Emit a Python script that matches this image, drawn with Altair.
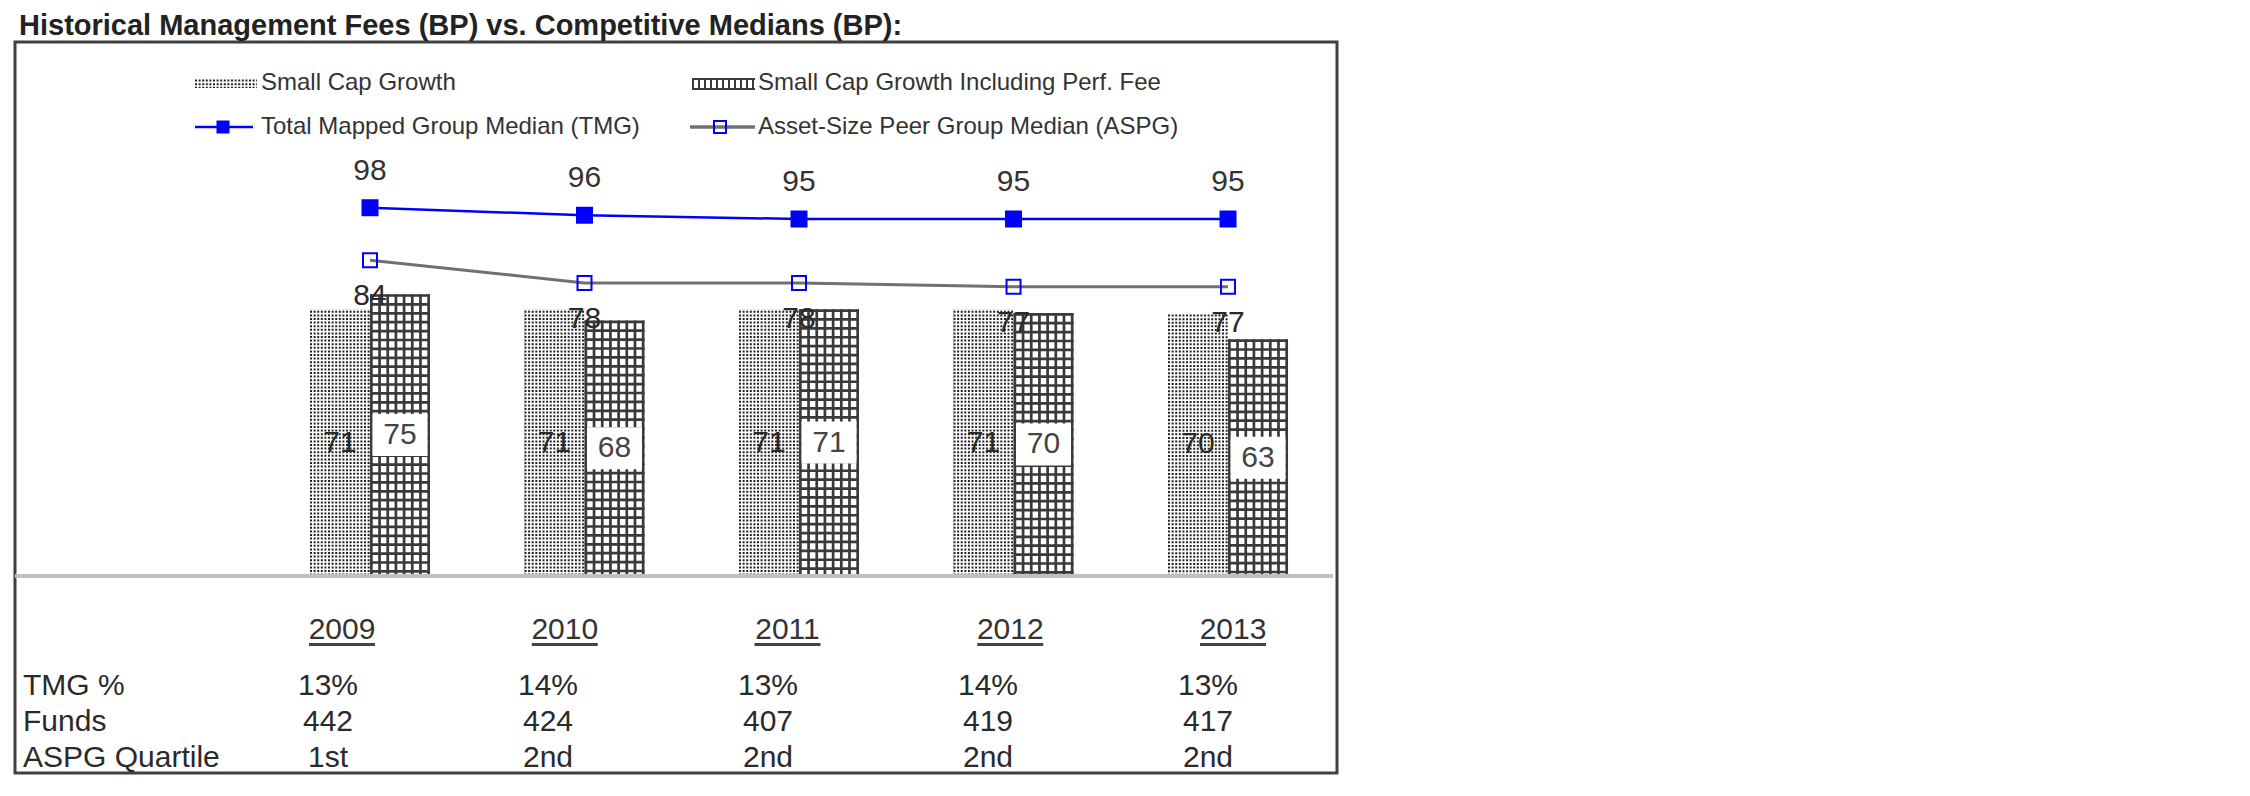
import altair as alt
import pandas as pd

# ---------------- data ----------------
years = [2009, 2010, 2011, 2012, 2013]
small_cap_growth = [71, 71, 71, 71, 70]
small_cap_growth_pf = [75, 68, 71, 70, 63]
tmg_median = [98, 96, 95, 95, 95]
aspg_median = [84, 78, 78, 77, 77]

row_labels = ["TMG %", "Funds", "ASPG Quartile"]
tmg_pct = ["13%", "14%", "13%", "14%", "13%"]
funds = ["442", "424", "407", "419", "417"]
aspg_quartile = ["1st", "2nd", "2nd", "2nd", "2nd"]

title_text = "Historical Management Fees (BP) vs. Competitive Medians (BP):"
legend_labels = [
    "Small Cap Growth",
    "Small Cap Growth Including Perf. Fee",
    "Total Mapped Group Median (TMG)",
    "Asset-Size Peer Group Median (ASPG)",
]

# ---------------- layout constants ----------------
FONT = "Liberation Sans"
W, H = 1322, 731
X_DOM = [2007.345, 2013.508]
Y_DOM = [-52.42, 142.1]
PX_Y = H / (Y_DOM[1] - Y_DOM[0])
PX_X = W / (X_DOM[1] - X_DOM[0])
BAR_W = 60
BW = BAR_W / PX_X            # bar width in year units
BOX_W = 55 / PX_X
BOX_H = 21 / PX_Y

df = pd.DataFrame({
    "Year": years,
    "SCG": small_cap_growth,
    "SCGPF": small_cap_growth_pf,
    "TMG": tmg_median,
    "ASPG": aspg_median,
})

tbl = pd.DataFrame(
    [{"Row": row_labels[0], "Year": y, "Value": v} for y, v in zip(years, tmg_pct)]
    + [{"Row": row_labels[1], "Year": y, "Value": v} for y, v in zip(years, funds)]
    + [{"Row": row_labels[2], "Year": y, "Value": v} for y, v in zip(years, aspg_quartile)]
)

xs = alt.Scale(domain=X_DOM, nice=False, zero=False)
ys = alt.Scale(domain=Y_DOM, nice=False, zero=False)
sw = alt.Scale(domain=[0, 100], range=[0, 100 * PX_Y])

base = alt.Chart(df).transform_calculate(
    zero="0",
    d_left=f"datum.Year - {BW}",
    d_mid_x=f"datum.Year - {BW / 2}",
    c_right=f"datum.Year + {BW}",
    c_mid_x=f"datum.Year + {BW / 2}",
    d_mid_y="datum.SCG / 2",
    c_mid_y="datum.SCGPF / 2",
    box_x1=f"datum.Year + {BW / 2} - {BOX_W / 2}",
    box_x2=f"datum.Year + {BW / 2} + {BOX_W / 2}",
    box_y1=f"datum.SCGPF / 2 - {BOX_H}",
    box_y2=f"datum.SCGPF / 2 + {BOX_H}",
)

PAT = "#222222"
HATCH = "#3a3a3a"

# dotted bars (Small Cap Growth)
dot_cols = base.mark_rule(color=PAT, strokeDash=[2, 1.6], strokeCap="butt").encode(
    x=alt.X("d_left:Q", scale=xs, axis=None),
    x2="Year:Q",
    y=alt.Y("d_mid_y:Q", scale=ys, axis=None),
    strokeWidth=alt.StrokeWidth("SCG:Q", scale=sw, legend=None),
)
dot_cuts = base.mark_rule(color="white", strokeDash=[1.6, 2], strokeCap="butt", strokeWidth=BAR_W).encode(
    x=alt.X("d_mid_x:Q", scale=xs, axis=None),
    y=alt.Y("SCG:Q", scale=ys, axis=None),
    y2="zero:Q",
)

# crosshatch bars (incl. perf fee)
gap_v = (BAR_W - 2.7) / 7 - 2.7
hatch_v = base.mark_rule(color=HATCH, strokeDash=[2.7, gap_v], strokeCap="butt").encode(
    x=alt.X("Year:Q", scale=xs, axis=None),
    x2="c_right:Q",
    y=alt.Y("c_mid_y:Q", scale=ys, axis=None),
    strokeWidth=alt.StrokeWidth("SCGPF:Q", scale=sw, legend=None),
)
hatch_h = base.mark_rule(color=HATCH, strokeDash=[2.7, 6.2], strokeCap="butt", strokeWidth=BAR_W).encode(
    x=alt.X("c_mid_x:Q", scale=xs, axis=None),
    y=alt.Y("SCGPF:Q", scale=ys, axis=None),
    y2="zero:Q",
)
label_box = base.mark_rect(color="white").encode(
    x=alt.X("box_x1:Q", scale=xs, axis=None),
    x2="box_x2:Q",
    y=alt.Y("box_y1:Q", scale=ys, axis=None),
    y2="box_y2:Q",
)

baseline = alt.Chart(alt.Data(values=[{"zero": 0}])).mark_rule(color="#c0c0c0", strokeWidth=4).encode(
    y=alt.Y("zero:Q", scale=ys, axis=None),
    x=alt.value(0),
    x2=alt.value(1318),
)

dot_lbl = base.mark_text(font=FONT, fontSize=30, color="#2a2a2a", baseline="middle").encode(
    x=alt.X("d_mid_x:Q", scale=xs, axis=None),
    y=alt.Y("d_mid_y:Q", scale=ys, axis=None),
    text="SCG:Q",
)
hatch_lbl = base.mark_text(font=FONT, fontSize=30, color="#444444", baseline="middle").encode(
    x=alt.X("c_mid_x:Q", scale=xs, axis=None),
    y=alt.Y("c_mid_y:Q", scale=ys, axis=None),
    text="SCGPF:Q",
)

aspg_line = base.mark_line(color="#707070", strokeWidth=3).encode(
    x=alt.X("Year:Q", scale=xs, axis=None),
    y=alt.Y("ASPG:Q", scale=ys, axis=None),
)
tmg_line = base.mark_line(color="#0000ff", strokeWidth=2.5).encode(
    x=alt.X("Year:Q", scale=xs, axis=None),
    y=alt.Y("TMG:Q", scale=ys, axis=None),
)
aspg_pts = base.mark_point(shape="square", filled=False, size=196, color="#0000ff",
                           strokeWidth=2, opacity=1).encode(
    x=alt.X("Year:Q", scale=xs, axis=None),
    y=alt.Y("ASPG:Q", scale=ys, axis=None),
)
tmg_pts = base.mark_point(shape="square", filled=True, size=289, color="#0000ff", opacity=1).encode(
    x=alt.X("Year:Q", scale=xs, axis=None),
    y=alt.Y("TMG:Q", scale=ys, axis=None),
)
tmg_lbl = base.mark_text(font=FONT, fontSize=30, color="#333333", baseline="middle", dy=-37).encode(
    x=alt.X("Year:Q", scale=xs, axis=None),
    y=alt.Y("TMG:Q", scale=ys, axis=None),
    text="TMG:Q",
)
aspg_lbl = base.mark_text(font=FONT, fontSize=30, color="#2a2a2a", baseline="middle", dy=36).encode(
    x=alt.X("Year:Q", scale=xs, axis=None),
    y=alt.Y("ASPG:Q", scale=ys, axis=None),
    text="ASPG:Q",
)

# ---------------- year labels & table ----------------
year_x = alt.Scale(type="point", domain=years, range=[327, 1218], padding=0)
val_x = alt.Scale(type="point", domain=years, range=[313, 1193], padding=0)
row_y = alt.Scale(type="point", domain=row_labels, range=[653, 725], padding=0)

year_lbl = alt.Chart(df).mark_text(font=FONT, fontSize=30, color="#333333", baseline="alphabetic").encode(
    x=alt.X("Year:O", scale=year_x, axis=None),
    y=alt.value(597),
    text="Year:N",
)
year_ul = alt.Chart(df).mark_rule(color="#444444", strokeWidth=66, strokeCap="butt").encode(
    x=alt.X("Year:O", scale=year_x, axis=None),
    y=alt.value(601),
    y2=alt.value(604),
)
tbl_vals = alt.Chart(tbl).mark_text(font=FONT, fontSize=30, color="#2a2a2a", baseline="alphabetic").encode(
    x=alt.X("Year:O", scale=val_x, axis=None),
    y=alt.Y("Row:N", scale=row_y, axis=None),
    text="Value:N",
)
tbl_rows = alt.Chart(pd.DataFrame({"Row": row_labels})).mark_text(
    font=FONT, fontSize=30, color="#2a2a2a", baseline="alphabetic", align="left"
).encode(
    x=alt.value(8),
    y=alt.Y("Row:N", scale=row_y, axis=None),
    text="Row:N",
)

# ---------------- title & legend ----------------
one = alt.Data(values=[{"k": 1}])
title = alt.Chart(one).mark_text(
    text=title_text, font=FONT, fontSize=29, fontWeight="bold", color="#222222",
    align="left", baseline="alphabetic",
).encode(x=alt.value(4), y=alt.value(-7))

LEG = dict(font=FONT, fontSize=24, color="#333333", baseline="middle", align="left")
leg = [
    alt.Chart(one).mark_rule(color=PAT, strokeWidth=10, strokeDash=[2, 1.6], strokeCap="butt").encode(
        x=alt.value(180), x2=alt.value(242), y=alt.value(41)),
    alt.Chart(one).mark_rule(color="white", strokeWidth=62, strokeDash=[1.6, 2], strokeCap="butt").encode(
        x=alt.value(211), y=alt.value(36), y2=alt.value(46)),
    alt.Chart(one).mark_text(text=legend_labels[0], **LEG).encode(x=alt.value(246), y=alt.value(41)),
    alt.Chart(one).mark_rule(color=HATCH, strokeWidth=12, strokeDash=[2, 4], strokeCap="butt").encode(
        x=alt.value(677), x2=alt.value(740), y=alt.value(42)),
    alt.Chart(one).mark_rule(color=HATCH, strokeWidth=63, strokeDash=[2, 8], strokeCap="butt").encode(
        x=alt.value(708.5), y=alt.value(36), y2=alt.value(48)),
    alt.Chart(one).mark_text(text=legend_labels[1], **LEG).encode(x=alt.value(743), y=alt.value(41)),
    alt.Chart(one).mark_rule(color="#0000ff", strokeWidth=2.5).encode(
        x=alt.value(180), x2=alt.value(238), y=alt.value(85)),
    alt.Chart(one).mark_point(shape="square", filled=True, size=169, color="#0000ff", opacity=1).encode(
        x=alt.value(208), y=alt.value(85)),
    alt.Chart(one).mark_text(text=legend_labels[2], **LEG).encode(x=alt.value(246), y=alt.value(85)),
    alt.Chart(one).mark_rule(color="#707070", strokeWidth=3.5).encode(
        x=alt.value(675), x2=alt.value(740), y=alt.value(85)),
    alt.Chart(one).mark_point(shape="square", filled=False, size=144, color="#0000ff",
                              strokeWidth=2, opacity=1).encode(x=alt.value(705), y=alt.value(85)),
    alt.Chart(one).mark_text(text=legend_labels[3], **LEG).encode(x=alt.value(743), y=alt.value(85)),
]

chart = alt.layer(
    dot_cols, dot_cuts, hatch_v, hatch_h, label_box, baseline,
    dot_lbl, hatch_lbl,
    aspg_line, tmg_line, aspg_pts, tmg_pts, tmg_lbl, aspg_lbl,
    year_lbl, year_ul, tbl_vals, tbl_rows,
    title, *leg,
).resolve_scale(
    x="independent", y="independent"
).properties(
    width=W,
    height=H,
    autosize=alt.AutoSizeParams(type="none"),
    padding={"left": 7, "top": 34, "right": 20, "bottom": 20},
    background="white",
).configure_view(
    stroke="#404040", strokeWidth=3
)

chart.save("out.html", embed_options={"renderer": "svg", "actions": False})
